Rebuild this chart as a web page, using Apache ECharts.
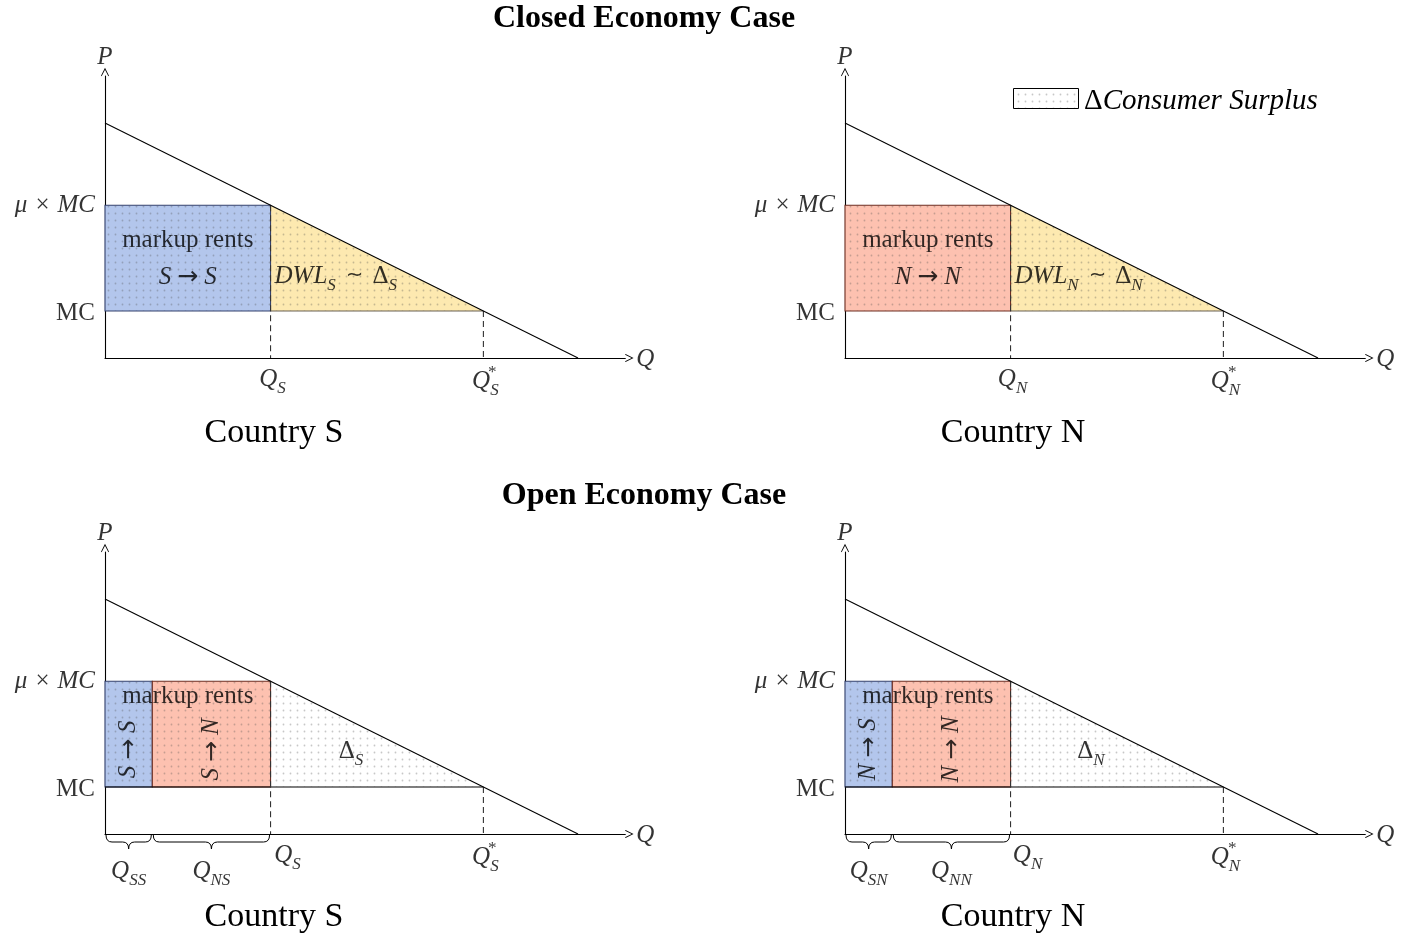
<!DOCTYPE html>
<html><head><meta charset="utf-8">
<script src="https://cdn.jsdelivr.net/npm/echarts@6/dist/echarts.min.js"></script>
<style>html,body{margin:0;padding:0;background:#fff}#c{width:1414px;height:939px}</style>
</head><body><div id="c"></div>
<script>
// ---- data ----
const Q_SPLIT = 1;      // Q_SS / Q_SN
const Q_MARKUP = 3.5;   // Q_S / Q_N
const Q_STAR = 8;       // Q*_S / Q*_N
const Q_CHOKE = 10;     // demand hits P=0
const P_MAX = 10;       // demand intercept
const P_MC = 2;         // MC
const P_MU = 6.5;       // mu x MC
const X_MAX = 11, Y_MAX = 12;
const countries = ['S', 'N', 'S', 'N'];
const openCase = [false, false, true, true];
const demand = [[0, P_MAX], [Q_CHOKE, 0]];
const sectionTitles = ['Closed Economy Case', 'Open Economy Case'];
const legendText = 'Consumer Surplus';

// ---- style ----
const SERIF = '"Liberation Serif", "DejaVu Serif", serif';
const MATH = '"DejaVu Sans", "DejaVu Serif", sans-serif';
const ARW = '"Noto Sans", "DejaVu Sans", sans-serif';
const BLUE = '#b3c6ec', RED = '#fdc1b0', YELLOW = '#fde9b0';
const grids = [
  {left: 105, top: 76, width: 520.3, height: 282},
  {left: 845, top: 76, width: 520.3, height: 282},
  {left: 105, top: 552, width: 520.3, height: 282},
  {left: 845, top: 552, width: 520.3, height: 282}
];

function dotCanvas(){
  const c = document.createElement('canvas'); c.width = 7; c.height = 7;
  const g = c.getContext('2d');
  g.fillStyle = 'rgba(80,80,80,0.32)';
  g.beginPath(); g.arc(3.5, 3.5, 0.9, 0, Math.PI*2); g.fill();
  return c;
}
const DOTS = {type: 'pattern', image: dotCanvas(), repeat: 'repeat'};

const FS = 25, SFS = 17;
const rich = {
  i: {fontFamily: SERIF, fontStyle: 'italic', fontSize: FS, verticalAlign: 'bottom', padding: [0,0,5,0], color: '#000'},
  r: {fontFamily: SERIF, fontSize: FS, verticalAlign: 'bottom', padding: [0,0,5,0], color: '#000'},
  sim: {fontFamily: MATH, fontSize: 21, verticalAlign: 'bottom', padding: [0,9,8,10], color: '#000'},
  s: {fontFamily: SERIF, fontStyle: 'italic', fontSize: SFS, verticalAlign: 'bottom', color: '#000'},
  t: {fontFamily: SERIF, fontSize: FS, color: '#000'},
  it: {fontFamily: SERIF, fontSize: FS, fontStyle: 'italic', color: '#000'},
  ar: {fontFamily: ARW, fontSize: 25, padding: [0,6,0,6], color: '#000'},
  x: {fontFamily: SERIF, fontSize: FS, padding: [0,8,0,8], color: '#000'}
};

function shapesFor(k){
  const c = countries[k];
  const list = [];
  if (!openCase[k]) {
    list.push({kind: 'tri', pts: [[Q_MARKUP, P_MU], [Q_STAR, P_MC], [Q_MARKUP, P_MC]], fill: YELLOW});
    list.push({kind: 'rect', pts: [[0, P_MC], [Q_MARKUP, P_MU]], fill: c === 'S' ? BLUE : RED, stroke: c === 'S' ? '#34426e' : '#6e2e22'});
  } else {
    list.push({kind: 'tri', pts: [[Q_MARKUP, P_MU], [Q_STAR, P_MC], [Q_MARKUP, P_MC]], fill: null});
    list.push({kind: 'rect', pts: [[0, P_MC], [Q_SPLIT, P_MU]], fill: BLUE, stroke: '#34426e'});
    list.push({kind: 'rect', pts: [[Q_SPLIT, P_MC], [Q_MARKUP, P_MU]], fill: RED, stroke: '#6e2e22'});
  }
  list.push({kind: 'line', pts: [[openCase[k] ? 0 : Q_MARKUP, P_MC], [Q_STAR, P_MC]], stroke: openCase[k] ? '#000' : '#6b6254'});
  list.push({kind: 'dash', pts: [[Q_MARKUP, P_MU], [Q_MARKUP, 0]]});
  list.push({kind: 'dash', pts: [[Q_STAR, P_MC], [Q_STAR, 0]]});
  if (openCase[k]) {
    list.push({kind: 'brace', pts: [[0, 0], [Q_SPLIT, 0]]});
    list.push({kind: 'brace', pts: [[Q_SPLIT, 0], [Q_MARKUP, 0]]});
  }
  return list;
}

function renderShape(list){
  return function(params, api){
    const sh = list[params.dataIndex];
    const P = sh.pts.map(p => api.coord(p));
    if (sh.kind === 'rect' || sh.kind === 'tri') {
      let poly;
      if (sh.kind === 'rect') poly = [[P[0][0], P[0][1]], [P[1][0], P[0][1]], [P[1][0], P[1][1]], [P[0][0], P[1][1]]];
      else poly = P;
      const ch = [];
      if (sh.fill) ch.push({type: 'polygon', shape: {points: poly}, style: {fill: sh.fill}});
      ch.push({type: 'polygon', shape: {points: poly}, style: {fill: DOTS}});
      if (sh.stroke) ch.push({type: 'polygon', shape: {points: poly}, style: {fill: null, stroke: sh.stroke, lineWidth: 1.1}});
      return {type: 'group', children: ch};
    }
    if (sh.kind === 'line') {
      return {type: 'line', shape: {x1: P[0][0], y1: P[0][1], x2: P[1][0], y2: P[1][1]}, style: {stroke: sh.stroke, lineWidth: 1.1}};
    }
    if (sh.kind === 'dash') {
      return {type: 'line', shape: {x1: P[0][0], y1: P[0][1], x2: P[1][0], y2: P[1][1]}, style: {stroke: '#333', lineWidth: 1.1, lineDash: [6, 4]}};
    }
    if (sh.kind === 'brace') {
      const x0 = P[0][0] + 1, x1 = P[1][0] - 1, y0 = P[0][1] + 1, m = (x0 + x1) / 2, h = 7, r = 6;
      const d = `M${x0},${y0} Q${x0},${y0+h} ${x0+r},${y0+h} L${m-r},${y0+h} Q${m},${y0+h} ${m},${y0+2*h} Q${m},${y0+h} ${m+r},${y0+h} L${x1-r},${y0+h} Q${x1},${y0+h} ${x1},${y0}`;
      return {type: 'path', shape: {pathData: d}, style: {fill: null, stroke: '#000', lineWidth: 1}};
    }
  };
}

function lab(q, p, text, opt){
  return {value: [q, p], label: Object.assign({show: true, formatter: text, color: '#000', position: [0, 0], align: 'center', verticalAlign: 'middle', rich: rich}, opt || {})};
}
function labelsFor(k){
  const c = countries[k];
  const L = [];
  L.push(lab(0, Y_MAX, '{it|P}', {offset: [0, -19]}));
  L.push(lab(X_MAX, 0, '{it|Q}', {offset: [20, 1]}));
  L.push(lab(0, P_MU, '{it|μ}{x|×}{it|MC}', {align: 'right', offset: [-10, 0]}));
  L.push(lab(0, P_MC, '{t|MC}', {align: 'right', offset: [-10, 2]}));
  L.push(lab(Q_STAR, 0, `{i|Q}{s|${c}}`, {offset: [2, 26]}));
  L.push(lab(Q_STAR, 0, '{s|*}', {offset: [8, 15]}));
  if (!openCase[k]) {
    L.push(lab(Q_MARKUP, 0, `{i|Q}{s|${c}}`, {offset: [2, 24]}));
    L.push(lab(Q_MARKUP / 2, 5.0, '{t|markup rents}'));
    L.push(lab(Q_MARKUP / 2, 3.45, `{it|${c}}{ar|→}{it|${c}}`));
    L.push(lab(Q_MARKUP, 3.5, `{i|DWL}{s|${c}}{sim|∼}{r|Δ}{s|${c}}`, {align: 'left', offset: [4, 3]}));
  } else {
    L.push(lab(Q_MARKUP, 0, `{i|Q}{s|${c}}`, {offset: [17, 24]}));
    L.push(lab(Q_SPLIT / 2, 0, `{i|Q}{s|S${c}}`, {offset: [0, 40]}));
    L.push(lab((Q_SPLIT + Q_MARKUP) / 2, 0, `{i|Q}{s|N${c}}`, {offset: [0, 40]}));
    L.push(lab(Q_MARKUP / 2, 5.85, '{t|markup rents}'));
    L.push(lab(Q_SPLIT / 2, 3.6, `{it|${c}}{ar|→}{it|S}`, {rotate: 90}));
    L.push(lab((Q_SPLIT + Q_MARKUP) / 2, 3.6, `{it|${c}}{ar|→}{it|N}`, {rotate: 90}));
    L.push(lab(5.2, 3.5, `{r|Δ}{s|${c}}`, {offset: [0, 2]}));
  }
  return L;
}

const ARROW = 'path://M0,10 L5,0 L10,10 L9.2,10.6 L5,2.4 L0.8,10.6 Z';
const xAxis = [], yAxis = [], series = [];
for (let k = 0; k < 4; k++) {
  xAxis.push({gridIndex: k, type: 'value', min: 0, max: X_MAX,
    axisLine: {show: true, onZero: false, lineStyle: {color: '#000', width: 1.1}, symbol: ['none', ARROW], symbolSize: [8, 9], symbolOffset: [0, 4]},
    axisTick: {show: false}, axisLabel: {show: false}, splitLine: {show: false}});
  yAxis.push({gridIndex: k, type: 'value', min: 0, max: Y_MAX,
    axisLine: {show: true, onZero: false, lineStyle: {color: '#000', width: 1.1}, symbol: ['none', ARROW], symbolSize: [8, 9], symbolOffset: [0, 4]},
    axisTick: {show: false}, axisLabel: {show: false}, splitLine: {show: false}});
  const shapes = shapesFor(k);
  series.push({type: 'custom', xAxisIndex: k, yAxisIndex: k, silent: true, z: 2,
    data: shapes.map((s, i) => [s.pts[0][0], s.pts[0][1]]), renderItem: renderShape(shapes), clip: false});
  series.push({type: 'line', xAxisIndex: k, yAxisIndex: k, data: demand, symbol: 'none', silent: true, z: 3,
    lineStyle: {color: '#000', width: 1.1}});
  series.push({type: 'scatter', xAxisIndex: k, yAxisIndex: k, symbolSize: 0, silent: true, z: 5, data: labelsFor(k)});
}

function txt(x, y, text, font){
  return {type: 'text', x: x, y: y, style: {text: text, font: font, fill: '#000', align: 'center', verticalAlign: 'middle', textAlign: 'center', textVerticalAlign: 'middle'}};
}
const graphic = [
  txt(644, 19, sectionTitles[0], 'bold 32px ' + SERIF),
  txt(644, 496, sectionTitles[1], 'bold 32px ' + SERIF),
  txt(274, 433, 'Country ' + countries[0], '34px ' + SERIF),
  txt(1013, 433, 'Country ' + countries[1], '34px ' + SERIF),
  txt(274, 917, 'Country ' + countries[2], '34px ' + SERIF),
  txt(1013, 917, 'Country ' + countries[3], '34px ' + SERIF),
  {type: 'rect', shape: {x: 1013.5, y: 88.5, width: 65, height: 20}, style: {fill: '#fff', stroke: '#000', lineWidth: 1}},
  {type: 'rect', shape: {x: 1014, y: 89, width: 64, height: 19}, style: {fill: {type: 'pattern', image: dotCanvas(), repeat: 'repeat'}, stroke: null}},
  {type: 'text', x: 1084, y: 101, style: {rich: {d: {fontFamily: SERIF, fontSize: 29, fill: '#000'}, e: {fontFamily: SERIF, fontSize: 29, fontStyle: 'italic', fill: '#000'}}, text: '{d|Δ}{e|' + legendText + '}', verticalAlign: 'middle', textVerticalAlign: 'middle'}}
];

const chart = echarts.init(document.getElementById('c'), null, {renderer: 'canvas'});
chart.setOption({animation: false, grid: grids, xAxis, yAxis, series, graphic});
</script></body></html>
